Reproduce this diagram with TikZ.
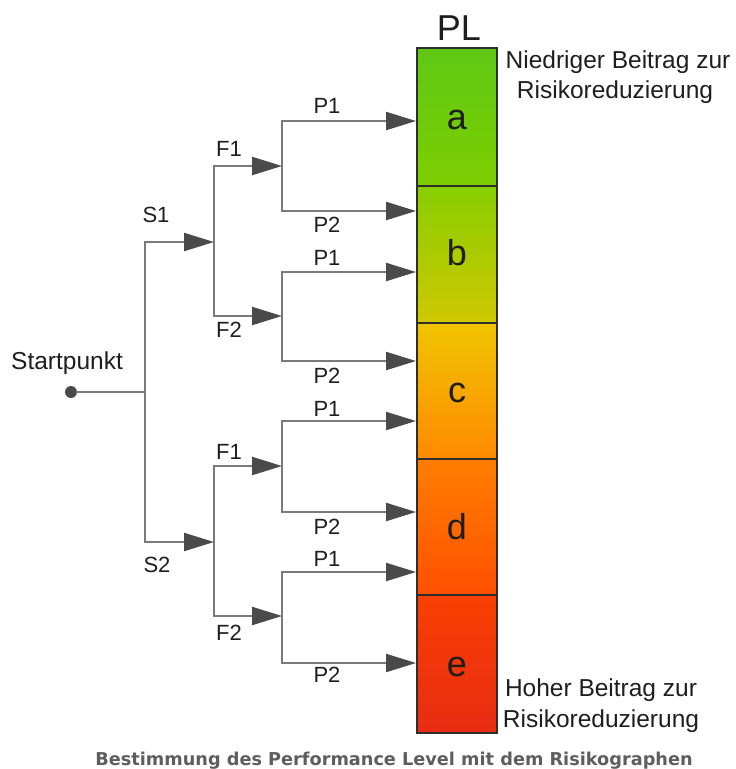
\documentclass[tikz,border=0pt]{standalone}
\usepackage{fontspec}
\setmainfont{Liberation Sans}
\newfontfamily\capfont{DejaVu Sans}
\usetikzlibrary{arrows.meta}

\definecolor{linegray}{HTML}{7A7A7A}
\definecolor{tipgray}{HTML}{4A4A4A}
\definecolor{labelcol}{HTML}{1E1E1E}
\definecolor{barline}{HTML}{2E2E2E}
\definecolor{capcol}{HTML}{5E5E5E}

\tikzset{
  trunk/.style={draw=linegray, line width=2.2pt, line cap=rect},
  branch/.style={draw=linegray, line width=2.2pt,
    -{Triangle[length=30pt,width=18pt,color=tipgray]}},
  lbl/.style={font=\fontsize{22}{24}\selectfont, text=labelcol, inner sep=0pt},
  side/.style={font=\fontsize{24.5}{28}\selectfont, text=labelcol, inner sep=0pt, anchor=base},
  plseg/.style={draw=barline, line width=2pt, minimum width=80pt, inner sep=0pt},
  plchar/.style={font=\fontsize{36}{40}\selectfont, text=labelcol, inner sep=0pt},
  startdot/.style={circle, fill=tipgray, minimum size=12pt, inner sep=0pt},
}

\begin{document}
\begin{tikzpicture}[x=1pt,y=-1pt]
\useasboundingbox[fill=white] (0,0) rectangle (736,769);

% performance level column
\node[plseg, minimum height=138pt, top color={rgb,255:red,95;green,200;blue,20}, bottom color={rgb,255:red,125;green,206;blue,0}] (sa) at (457,117) {};
\node[plseg, minimum height=137pt, top color={rgb,255:red,135;green,206;blue,0}, bottom color={rgb,255:red,208;green,200;blue,0}] (sb) at (457,254.5) {};
\node[plseg, minimum height=136pt, top color={rgb,255:red,240;green,196;blue,0}, middle color={rgb,255:red,255;green,182;blue,0}, bottom color={rgb,255:red,255;green,138;blue,0}] (sc) at (457,391) {};
\node[plseg, minimum height=136pt, top color={rgb,255:red,255;green,126;blue,0}, bottom color={rgb,255:red,255;green,80;blue,0}] (sd) at (457,527) {};
\node[plseg, minimum height=138pt, top color={rgb,255:red,248;green,64;blue,0}, bottom color={rgb,255:red,232;green,44;blue,20}] (se) at (457,664) {};

\node[plchar] (la) at (457,120) {a};
\node[plchar] (lb) at (457,253) {b};
\node[plchar] (lc) at (457,393) {c};
\node[plchar] (ld) at (457,527) {d};
\node[plchar] (le) at (457,667) {e};
\node[plchar] (pl) at (459,28) {PL};

\node[side] (low1) at (618,68) {Niedriger Beitrag zur};
\node[side] (low2) at (615,98) {Risikoreduzierung};
\node[side] (high1) at (601,696) {Hoher Beitrag zur};
\node[side] (high2) at (601,727) {Risikoreduzierung};

% start point and S branch
\node[startdot] (start) at (71,392) {};
\node[lbl, font=\fontsize{24.5}{28}\selectfont] (lstart) at (67,363) {Startpunkt};
\coordinate (j0) at (145,392);
\coordinate (s1) at (145,242);
\coordinate (s2) at (145,542);
\draw[trunk] (start) -- (j0);
\draw[trunk] (s1) -- (s2);

% F branches
\coordinate (f11) at (214,166);
\coordinate (f12) at (214,316);
\coordinate (f21) at (214,466);
\coordinate (f22) at (214,616);
\draw[trunk] (f11) -- (f12);
\draw[trunk] (f21) -- (f22);
\draw[branch] (s1) -- (f11 |- s1);
\draw[branch] (s2) -- (f21 |- s2);
\node[lbl] (ls1) at (156,215) {S1};
\node[lbl] (ls2) at (157,565) {S2};

% P branches
\coordinate (p111) at (282,121);
\coordinate (p112) at (282,211);
\coordinate (p121) at (282,272);
\coordinate (p122) at (282,361);
\coordinate (p211) at (282,421);
\coordinate (p212) at (282,512);
\coordinate (p221) at (282,572);
\coordinate (p222) at (282,663);
\draw[trunk] (p111) -- (p112);
\draw[trunk] (p121) -- (p122);
\draw[trunk] (p211) -- (p212);
\draw[trunk] (p221) -- (p222);
\draw[branch] (f11) -- (p111 |- f11);
\draw[branch] (f12) -- (p121 |- f12);
\draw[branch] (f21) -- (p211 |- f21);
\draw[branch] (f22) -- (p221 |- f22);
\node[lbl] (lf11) at (229,149) {F1};
\node[lbl] (lf12) at (229,330) {F2};
\node[lbl] (lf21) at (229,452) {F1};
\node[lbl] (lf22) at (229,633) {F2};

% arrows into the PL column
\draw[branch] (p111) -- (sa.west |- p111);
\draw[branch] (p112) -- (sb.west |- p112);
\draw[branch] (p121) -- (sb.west |- p121);
\draw[branch] (p122) -- (sc.west |- p122);
\draw[branch] (p211) -- (sc.west |- p211);
\draw[branch] (p212) -- (sd.west |- p212);
\draw[branch] (p221) -- (sd.west |- p221);
\draw[branch] (p222) -- (se.west |- p222);
\node[lbl] (lp111) at (327,106) {P1};
\node[lbl] (lp112) at (327,225) {P2};
\node[lbl] (lp121) at (327,258) {P1};
\node[lbl] (lp122) at (327,376) {P2};
\node[lbl] (lp211) at (327,409) {P1};
\node[lbl] (lp212) at (327,527) {P2};
\node[lbl] (lp221) at (327,559) {P1};
\node[lbl] (lp222) at (327,675) {P2};

% caption
\node[anchor=base, inner sep=0pt, text=capcol, font=\capfont\bfseries\fontsize{17.7}{19}\selectfont] (caption) at (394,765) {Bestimmung des Performance Level mit dem Risikographen};
\end{tikzpicture}
\end{document}
